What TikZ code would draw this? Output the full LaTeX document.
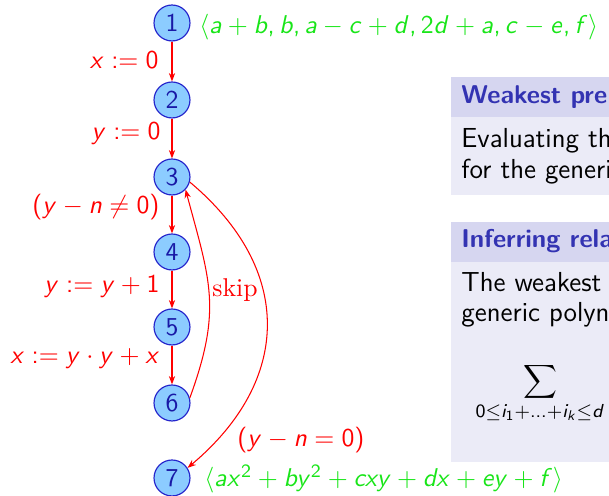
\documentclass[tikz,border=0pt]{standalone}
\DeclareMathVersion{sans}
\SetSymbolFont{operators}{sans}{OT1}{cmss}{m}{n}
\SetSymbolFont{letters}{sans}{OT1}{cmss}{m}{sl}
\SetSymbolFont{symbols}{sans}{OMS}{cmsy}{m}{n}
\SetSymbolFont{largesymbols}{sans}{OMX}{cmex}{m}{n}
\mathcode`\,="602C
\mathcode`\.="002E
\DeclareMathSymbol{\ldotp}{\mathpunct}{operators}{"2E}
\usetikzlibrary{arrows.meta}
\definecolor{nodefill}{rgb}{0.55,0.8,1}
\definecolor{nodedraw}{rgb}{0.15,0.15,0.8}
\definecolor{nodetext}{rgb}{0.1,0.1,0.65}
\definecolor{annot}{rgb}{0.1,0.9,0.1}
\definecolor{titlebg}{rgb}{0.84,0.84,0.94}
\definecolor{bodybg}{rgb}{0.92,0.92,0.97}
\definecolor{titlefg}{rgb}{0.2,0.2,0.7}
\begin{document}
\begin{tikzpicture}[x=0.4255pt,y=0.4255pt,
  font=\fontsize{10.95}{13.6}\selectfont\sffamily\mathversion{sans},
  state/.style={circle, draw=nodedraw, fill=nodefill, text=nodetext, minimum size=15.3pt, inner sep=0pt, line width=0.5pt},
  flow/.style={draw=red, line width=0.45pt, -{Stealth[length=3.6pt,width=2.7pt]}},
  lab/.style={text=red, anchor=east, inner sep=0pt},
  annot/.style={text=annot, anchor=west, inner sep=0pt},
  blocktitle/.style={anchor=base west, inner sep=0pt, text=titlefg, font=\fontsize{10.95}{13.6}\selectfont\sffamily\bfseries},
  blocktext/.style={anchor=base west, inner sep=0pt, text=black, font=\fontsize{11.7}{14}\selectfont\sffamily}]
\useasboundingbox (0,0) rectangle (609,496);
% blocks
\begin{scope}
\clip (0,0) rectangle (609,496);
\fill[titlebg] (451,379) rectangle (620,419);
\fill[bodybg] (451,301) rectangle (620,379);
\fill[titlebg] (451,234) rectangle (620,274);
\fill[bodybg] (451,34) rectangle (620,234);
\node[blocktitle] (t1) at (461,392) {Weakest pre};
\node[blocktext] (b1a) at (461,348) {Evaluating th};
\node[blocktext] (b1b) at (461,317) {for the generi};
\node[blocktitle] (t2) at (461,248) {Inferring rela};
\node[blocktext] (b2a) at (461,204) {The weakest};
\node[blocktext] (b2b) at (461,174) {generic polyn};
\node[inner sep=0pt] (sum) at (540,103) {$\displaystyle\sum_{0\le i_1+\ldots+i_k\le d}$};
\end{scope}
% states
\node[state] (n1) at (172,473) {1};
\node[state] (n2) at (172,396) {2};
\node[state] (n3) at (172,319) {3};
\node[state] (n4) at (172,244) {4};
\node[state] (n5) at (172,169) {5};
\node[state] (n6) at (172,93) {6};
\node[state] (n7) at (172,18) {7};
% straight edges
\draw[flow] (n1) -- (n2);
\draw[flow] (n2) -- (n3);
\draw[flow] (n3) -- (n4);
\draw[flow] (n4) -- (n5);
\draw[flow] (n5) -- (n6);
% curved edges
\draw[flow] (n6.16) .. controls +(70:40.4pt) and +(-75:40.4pt) .. (n3.-43);
\draw[flow] (n3.-16) .. controls +(-40:57.9pt) and +(40:57.9pt) .. (n7.33);
% edge labels
\node[lab] (l12) at (159,436) {$x := 0$};
\node[lab] (l23) at (161,362) {$y := 0$};
\node[lab] (l34) at (160,289) {$(y-n\neq 0)$};
\node[lab] (l45) at (160,209) {$y := y+1$};
\node[lab] (l56) at (160,137) {$x := y\cdot y+x$};
\node[text=red, inner sep=0pt] (lsk) at (235,206) {\rmfamily skip};
\node[text=red, inner sep=0pt] (l37) at (301,56) {$(y-n=0)$};
% annotations
\node[annot] (a1) at (199,469) {$\langle a+b, b, a-c+d, 2d+a, c-e, f\rangle$};
\node[annot] (a7) at (204,17) {$\langle ax^2+by^2+cxy+dx+ey+f\rangle$};
\end{tikzpicture}
\end{document}
